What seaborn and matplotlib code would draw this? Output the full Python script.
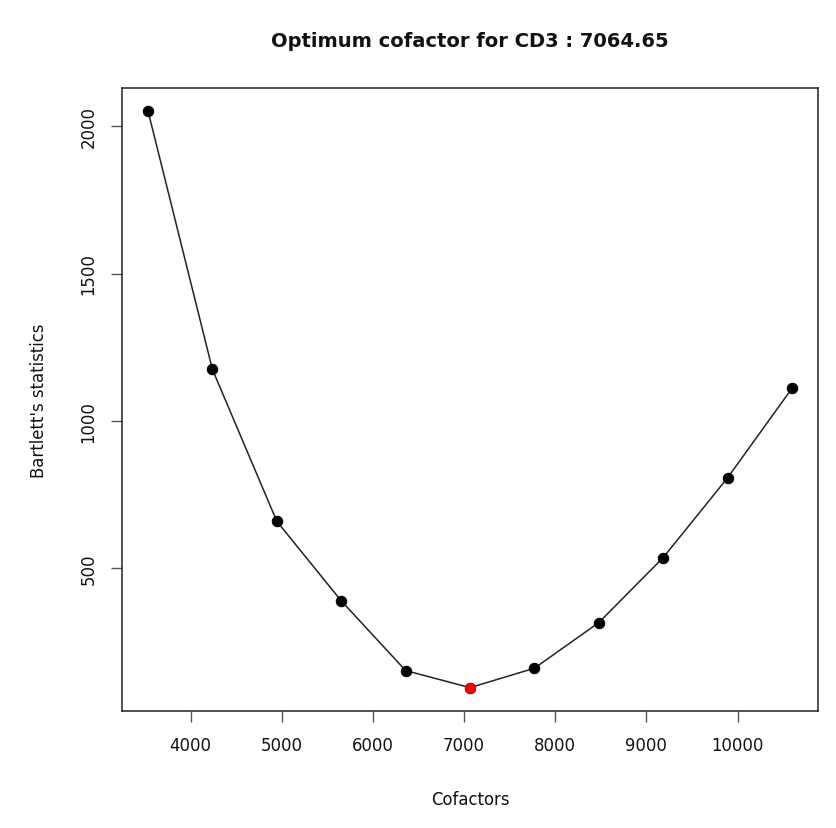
import matplotlib
matplotlib.use("Agg")
import matplotlib.pyplot as plt
import seaborn as sns
import pandas as pd

# Candidate cofactors and the Bartlett's statistic obtained for each
cofactors = [3532.33, 4238.79, 4945.26, 5651.72, 6358.19, 7064.65,
             7771.12, 8477.58, 9184.05, 9890.51, 10596.98]
bartlett = [2052, 1174, 658, 388, 151, 93, 159, 314, 535, 806, 1110]
optimum = 7064.65
optimum_stat = 93

x_ticks = [4000, 5000, 6000, 7000, 8000, 9000, 10000]
y_ticks = [500, 1000, 1500, 2000]

df = pd.DataFrame({"Cofactors": cofactors, "Bartlett": bartlett})
best = pd.DataFrame({"Cofactors": [optimum], "Bartlett": [optimum_stat]})

sns.set_theme(style="white")
plt.rcParams["font.family"] = ["DejaVu Sans"]

fig = plt.figure(figsize=(8.37, 8.29), dpi=100)
ax = fig.add_axes([0.1461, 0.1415, 0.8309, 0.7511])

sns.lineplot(data=df, x="Cofactors", y="Bartlett", ax=ax, color="#222222",
             linewidth=1.1, marker="o", markersize=7.5, markerfacecolor="black",
             markeredgecolor="black", sort=False)
sns.scatterplot(data=best, x="Cofactors", y="Bartlett", ax=ax, color="red",
                s=55, edgecolor="red", linewidth=0.5, zorder=5)

span_x = max(cofactors) - min(cofactors)
span_y = max(bartlett) - min(bartlett)
ax.set_xlim(min(cofactors) - 0.04 * span_x, max(cofactors) + 0.04 * span_x)
ax.set_ylim(min(bartlett) - 0.04 * span_y, max(bartlett) + 0.04 * span_y)
ax.set_xticks(x_ticks)
ax.set_yticks(y_ticks)
ax.set_xticklabels([str(v) for v in x_ticks])
ax.set_yticklabels([str(v) for v in y_ticks], rotation=90, va="center")

for s in ax.spines.values():
    s.set_visible(True)
    s.set_color("#222222")
    s.set_linewidth(1.1)

ax.tick_params(axis="both", which="major", direction="out", length=8,
               width=1.0, color="#555555", labelsize=11.9, labelcolor="#111111",
               bottom=True, left=True, top=False, right=False)
ax.tick_params(axis="x", pad=10)
ax.tick_params(axis="y", pad=10)

ax.set_xlabel("Cofactors", fontsize=11.9, color="#111111", labelpad=26)
ax.set_ylabel("Bartlett's statistics", fontsize=11.9, color="#111111", labelpad=22.5)
ax.set_title("Optimum cofactor for CD3 : 7064.65", fontsize=14.0,
             fontweight="bold", color="#111111", pad=30.5)

fig.savefig("out.png", dpi=100, facecolor="white")
